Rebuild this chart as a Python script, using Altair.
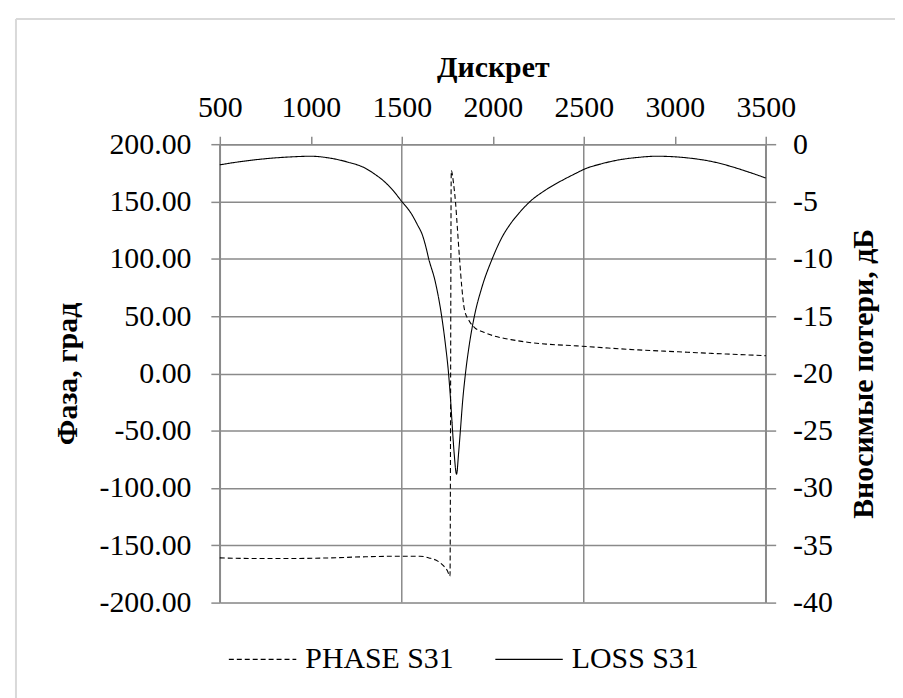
import altair as alt
import pandas as pd

# ---- data ----
x_loss = [500, 600, 700, 800, 900, 1000, 1100, 1200, 1300, 1350, 1400, 1450, 1500, 1550, 1585,
          1615, 1633, 1648, 1684, 1719, 1740, 1757, 1769, 1779, 1788, 1801, 1812, 1822, 1834,
          1850, 1871, 1899, 1940, 1997, 2055, 2095, 2145, 2205, 2290, 2400, 2462, 2500, 2600,
          2700, 2800, 2900, 3000, 3100, 3200, 3300, 3400, 3500]
loss_db = [-1.8, -1.55, -1.35, -1.2, -1.1, -1.05, -1.2, -1.55, -2.1, -2.6, -3.2, -4.0, -5.0, -6.0, -7.0,
           -8.0, -9.0, -10.0, -12.0, -15.0, -17.5, -20.0, -22.5, -25.0, -27.0, -28.8, -27.0, -25.0, -22.5,
           -20.0, -17.5, -15.0, -12.5, -10.0, -8.0, -7.0, -6.0, -5.0, -4.0, -3.0, -2.5, -2.2, -1.7,
           -1.35, -1.15, -1.05, -1.1, -1.25, -1.5, -1.9, -2.4, -2.95]

x_phase = [500, 700, 900, 1100, 1300, 1500, 1600, 1650, 1700, 1730, 1750, 1765, 1772, 1785,
           1795, 1805, 1817, 1830, 1844, 1870, 1900, 1950, 2000, 2100, 2200, 2300, 2462, 2600,
           2800, 3000, 3200, 3500]
phase_deg = [-161, -161.5, -161.5, -161, -160, -159.5, -159.5, -161, -164, -168, -172, -177, 177, 165,
             150, 128, 101, 75, 56, 46, 40, 36, 33, 29.5, 27, 25.5, 24, 22.5,
             20.5, 19, 17.5, 15.5]

series_names = ["PHASE S31", "LOSS S31"]
x_ticks = [500, 1000, 1500, 2000, 2500, 3000, 3500]
x_grid = [500, 1500, 2500, 3500]
phase_ticks = [-200, -150, -100, -50, 0, 50, 100, 150, 200]
loss_ticks = [-40, -35, -30, -25, -20, -15, -10, -5, 0]

df_loss = pd.DataFrame({"d": x_loss, "loss": loss_db, "series": series_names[1]})
df_phase = pd.DataFrame({"d": x_phase, "phase": phase_deg, "series": series_names[0]})
df_grid = pd.DataFrame({"d": x_grid})

FONT = "Liberation Serif"
GRID = "#8a8a8a"
FS = 30
W, H = 549, 461

x_scale = alt.Scale(domain=[500, 3500], nice=False, zero=False)
x_axis = alt.Axis(orient="top", values=x_ticks, grid=False, title="Дискрет", format="d",
                  labelFlush=False, labelOverlap=False,
                  labelFont=FONT, labelFontSize=FS, labelColor="black",
                  titleFont=FONT, titleFontSize=FS, titleFontWeight="bold", titleColor="black",
                  domainColor=GRID, domainWidth=1.5, tickColor=GRID, tickWidth=1.5, tickSize=8,
                  labelPadding=14, titleX=W / 2, titleY=-77, titleBaseline="middle", titleAlign="center")

dash_scale = alt.Scale(domain=series_names, range=[[5, 3], [1, 0]])
legend = alt.Legend(orient="none", legendX=8, legendY=483, direction="horizontal", title=None,
                    symbolType="stroke", symbolSize=4600, symbolStrokeWidth=1.2,
                    symbolStrokeColor="black", labelFont=FONT, labelFontSize=FS,
                    labelColor="black", labelOffset=8, columnPadding=38)

grid_layer = alt.Chart(df_grid).mark_rule(color=GRID, strokeWidth=1.5).encode(
    x=alt.X("d:Q", scale=x_scale, axis=x_axis)
)

phase_line = alt.Chart(df_phase).mark_line(color="black", strokeWidth=1.1, interpolate="monotone").encode(
    x=alt.X("d:Q", scale=x_scale, axis=x_axis),
    y=alt.Y("phase:Q", scale=alt.Scale(domain=[-200, 200], nice=False),
            axis=alt.Axis(orient="left", values=phase_ticks, title="Фаза, град",
                          labelExpr="datum.value < 0 ? '-' + format(-datum.value, '.2f') : format(datum.value, '.2f')",
                          labelFlush=False, labelOverlap=False,
                          grid=True, gridColor=GRID, gridWidth=1.5,
                          labelFont=FONT, labelFontSize=FS, labelColor="black",
                          titleFont=FONT, titleFontSize=FS, titleFontWeight="bold", titleColor="black",
                          domainColor=GRID, domainWidth=1.5, tickColor=GRID, tickWidth=1.5,
                          tickSize=9, labelPadding=20,
                          titleAngle=270, titleX=-153, titleY=H / 2, titleBaseline="middle",
                          titleAlign="center")),
    strokeDash=alt.StrokeDash("series:N", scale=dash_scale, legend=legend),
    order="d:Q",
)

loss_line = alt.Chart(df_loss).mark_line(color="black", strokeWidth=1.1, interpolate="monotone").encode(
    x=alt.X("d:Q", scale=x_scale, axis=x_axis),
    y=alt.Y("loss:Q", scale=alt.Scale(domain=[-40, 0], nice=False),
            axis=alt.Axis(orient="right", values=loss_ticks, title="Вносимые потери, дБ",
                          labelExpr="datum.value < 0 ? '-' + format(-datum.value, 'd') : format(datum.value, 'd')",
                          labelFlush=False, labelOverlap=False,
                          grid=False,
                          labelFont=FONT, labelFontSize=FS, labelColor="black",
                          titleFont=FONT, titleFontSize=FS, titleFontWeight="bold", titleColor="black",
                          domainColor=GRID, domainWidth=1.5, tickColor=GRID, tickWidth=1.5,
                          tickSize=10, labelPadding=17,
                          titleAngle=270, titleX=98, titleY=H / 2, titleBaseline="middle",
                          titleAlign="center")),
    strokeDash=alt.StrokeDash("series:N", scale=dash_scale, legend=legend),
    order="d:Q",
)

frame_df = pd.DataFrame({"k": [0]})
frame_left = alt.Chart(frame_df).mark_rule(color="#d9d9d9", strokeWidth=2).encode(
    x=alt.value(-205), y=alt.value(-126), y2=alt.value(560))
frame_top = alt.Chart(frame_df).mark_rule(color="#d9d9d9", strokeWidth=2).encode(
    x=alt.value(-205), x2=alt.value(690), y=alt.value(-126))

chart = alt.layer(frame_left, frame_top, grid_layer, phase_line, loss_line).resolve_scale(
    y="independent"
).properties(
    width=W, height=H,
    autosize=alt.AutoSizeParams(type="none"),
    padding={"left": 213, "top": 135, "right": 130, "bottom": 100},
).configure_view(stroke=None).configure(background="white")

chart.save("out.html", embed_options={"renderer": "svg", "actions": False})
